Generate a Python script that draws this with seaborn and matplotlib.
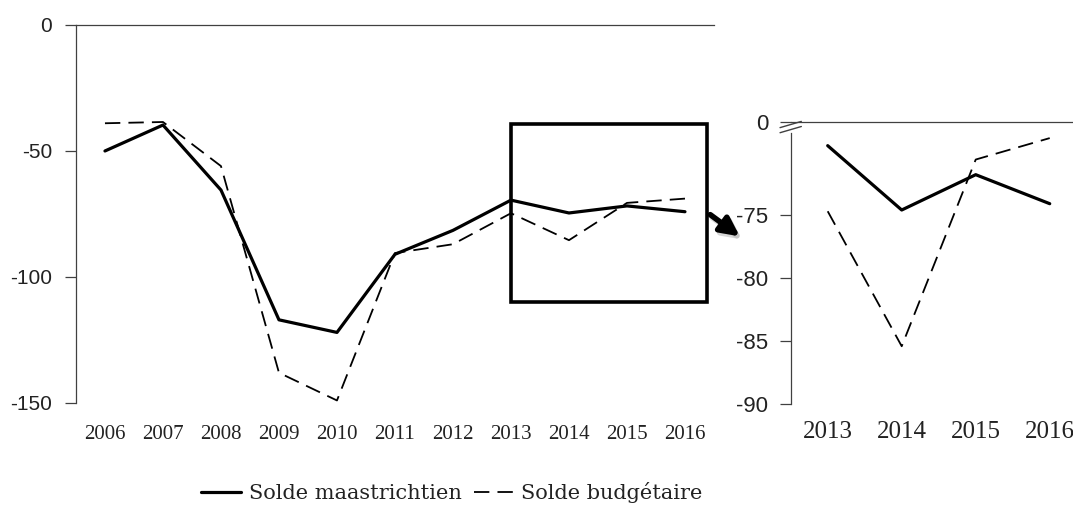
import matplotlib
matplotlib.use("Agg")
import matplotlib.pyplot as plt
from matplotlib.patches import Rectangle, FancyArrowPatch
import seaborn as sns

# data (Md EUR)
annees = [2006, 2007, 2008, 2009, 2010, 2011, 2012, 2013, 2014, 2015, 2016]
solde_maastrichtien = [-50, -39.7, -65.5, -117, -122, -91, -81.5, -69.5, -74.6, -71.8, -74.1]
solde_budgetaire = [-39, -38.5, -56, -138, -149, -90.5, -87, -74.7, -85.4, -70.6, -68.9]
labels = ["Solde maastrichtien", "Solde budgétaire"]

# zoomed part
annees_zoom = annees[7:]
maast_zoom = solde_maastrichtien[7:]
budget_zoom = solde_budgetaire[7:]

main_yticks = [0, -50, -100, -150]
zoom_yticks = [-90, -85, -80, -75]
zoom_top = -67.6  # where the broken axis shows "0"

sns.set_style("ticks")
plt.rcParams["axes.unicode_minus"] = False

AXC = "#404040"
TXT = "#222222"
dash = (0, (8.5, 4.5))


def draw_lines(ax, x, y1, y2):
    sns.lineplot(x=x, y=y1, color="black", lw=2.3, ax=ax, label=labels[0], legend=False)
    sns.lineplot(x=x, y=y2, color="black", lw=1.3, linestyle=dash, ax=ax,
                 label=labels[1], legend=False)


def style_axes(ax, xfs, yfs, xpad, ypad):
    for side in ["bottom", "right"]:
        ax.spines[side].set_visible(False)
    for side in ["left", "top"]:
        ax.spines[side].set_color(AXC)
        ax.spines[side].set_linewidth(0.9)
    ax.tick_params(axis="x", length=0, pad=xpad, labelsize=xfs, labelcolor=TXT)
    ax.tick_params(axis="y", length=8, width=0.9, color=AXC, pad=ypad,
                   labelsize=yfs, labelcolor=TXT)
    for t in ax.get_xticklabels():
        t.set_fontfamily("Liberation Serif")
    for t in ax.get_yticklabels():
        t.set_fontfamily("Liberation Sans")
    ax.set_xlabel("")
    ax.set_ylabel("")
    ax.grid(False)


fig = plt.figure(figsize=(10.73, 5.15), dpi=100)

# main chart
ax = fig.add_axes([0.0708, 0.2175, 0.5946, 0.734])
draw_lines(ax, annees, solde_maastrichtien, solde_budgetaire)
ax.set_xlim(annees[0] - 0.5, annees[-1] + 0.5)
ax.set_ylim(-150, 0)
ax.set_xticks(annees)
ax.set_xticklabels([str(a) for a in annees])
ax.set_yticks(main_yticks)
ax.set_yticklabels([str(v) for v in main_yticks])
style_axes(ax, 15, 15, 16, 9)

# zoom box on main chart
ax.add_patch(Rectangle((annees_zoom[0], -110), 3.38, 70.7, fill=False,
                       lw=2.6, ec="black", clip_on=False, zorder=5))

# inset chart
ax2 = fig.add_axes([0.7369, 0.2150, 0.2759, 0.5487])
draw_lines(ax2, annees_zoom, maast_zoom, budget_zoom)
ax2.set_xlim(annees_zoom[0] - 0.5, annees_zoom[-1] + 0.5)
ax2.set_ylim(zoom_yticks[0], zoom_top)
ax2.set_xticks(annees_zoom)
ax2.set_xticklabels([str(a) for a in annees_zoom])
ax2.set_yticks(zoom_yticks + [zoom_top])
ax2.set_yticklabels([str(v) for v in zoom_yticks] + ["0"])
style_axes(ax2, 18, 16, 12, 8)
ax2.spines["left"].set_bounds(zoom_yticks[0], -68.5)

# axis break marks
for yc in [0.990, 0.972]:
    ax2.plot([-0.036, 0.036], [yc - 0.011, yc + 0.011], color=AXC, lw=1.0,
             transform=ax2.transAxes, clip_on=False)

# arrow from zoom box to inset (with a soft shadow)
p0 = (708 / 1073, 1 - 213 / 515)
p1 = (742 / 1073, 1 - 238 / 515)
shadow = FancyArrowPatch((p0[0] + 0.002, p0[1] - 0.006), (p1[0] + 0.002, p1[1] - 0.006),
                         transform=fig.transFigure, arrowstyle="-|>", mutation_scale=28,
                         lw=4, color="#bbbbbb", alpha=0.6)
arrow = FancyArrowPatch(p0, p1, transform=fig.transFigure, arrowstyle="-|>",
                        mutation_scale=28, lw=4, color="black")
fig.add_artist(shadow)
fig.add_artist(arrow)

# legend
handles = ax.get_lines()[:2]
fig.legend(handles, labels, loc="center", bbox_to_anchor=(0.421, 0.043), ncol=2,
           frameon=False, prop={"family": "DejaVu Serif", "size": 15},
           handlelength=1.92, handletextpad=0.38, columnspacing=0.58,
           labelcolor=TXT)

fig.savefig("out.png", dpi=100, facecolor="white")
